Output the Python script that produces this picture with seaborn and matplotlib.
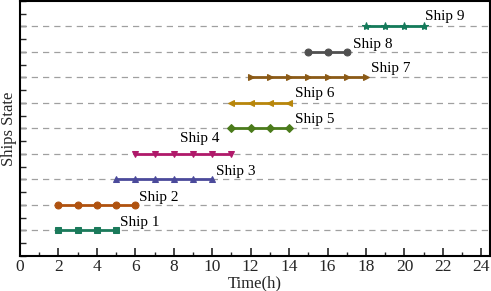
import matplotlib
matplotlib.use("Agg")
import matplotlib.pyplot as plt
import seaborn as sns
import pandas as pd
from matplotlib.ticker import MultipleLocator

sns.set_style("ticks")
plt.rcParams['font.family'] = ['Liberation Serif', 'DejaVu Serif']

ships = ["Ship 1", "Ship 2", "Ship 3", "Ship 4", "Ship 5", "Ship 6", "Ship 7", "Ship 8", "Ship 9"]
levels = [1, 2, 3, 4, 5, 6, 7, 8, 9]
times = [
    [2, 3, 4, 5],
    [2, 3, 4, 5, 6],
    [5, 6, 7, 8, 9, 10],
    [6, 7, 8, 9, 10, 11],
    [11, 12, 13, 14],
    [11, 12, 13, 14],
    [12, 13, 14, 15, 16, 17, 18],
    [15, 16, 17],
    [18, 19, 20, 21],
]
colors = ["#1b7a5b", "#b0520f", "#4b4a9b", "#b0196a", "#4b7b1b", "#b8860b", "#8b5a16", "#505050", "#147a5a"]
markers = ["s", "o", "^", "v", "D", "<", ">", "o", "*"]
marker_sizes = [4.2, 5, 5, 5, 4.2, 5, 5, 5, 6]
label_x = [5.2, 6.2, 10.2, 8.3, 14.3, 14.3, 18.25, 17.3, 21.05]
label_y = [1.3, 2.3, 3.3, 4.6, 5.35, 6.35, 7.35, 8.3, 9.4]

fig = plt.figure(figsize=(4.91, 2.91), dpi=100)
ax = fig.add_axes([0.0407, 0.1203, 0.9573, 0.877])

for lv in levels:
    ax.axhline(lv, color="#a0a0a0", lw=0.9, ls=(0, (5, 4)), zorder=1)

for name, lv, t, c, m, ms in zip(ships, levels, times, colors, markers, marker_sizes):
    df = pd.DataFrame({"t": t, "s": [lv] * len(t)})
    sns.lineplot(data=df, x="t", y="s", ax=ax, color=c, marker=m, markersize=ms,
                 markeredgecolor=c, linewidth=2, zorder=3)

for name, x, y in zip(ships, label_x, label_y):
    ax.text(x, y, name, fontsize=11, ha="left", va="center", color="black")

ax.set_xlim(0, 24.45)
ax.set_ylim(0, 10)
ax.xaxis.set_major_locator(MultipleLocator(2))
ax.xaxis.set_minor_locator(MultipleLocator(1))
ax.yaxis.set_major_locator(MultipleLocator(1))
ax.yaxis.set_minor_locator(MultipleLocator(0.5))
ax.set_yticklabels([])
ax.tick_params(axis="x", which="major", direction="in", length=6, width=1.2, labelsize=12.5, pad=2.5)
ax.tick_params(axis="x", which="minor", direction="in", length=3, width=1.0)
ax.tick_params(axis="y", which="both", direction="in", length=4, width=1.0, labelleft=False)
for sp in ax.spines.values():
    sp.set_linewidth(1.5)
    sp.set_color("black")
ax.set_xlabel("Time(h)", fontsize=12, labelpad=0)
ax.set_ylabel("Ships State", fontsize=12, labelpad=2)

fig.savefig("out.png", dpi=100)
